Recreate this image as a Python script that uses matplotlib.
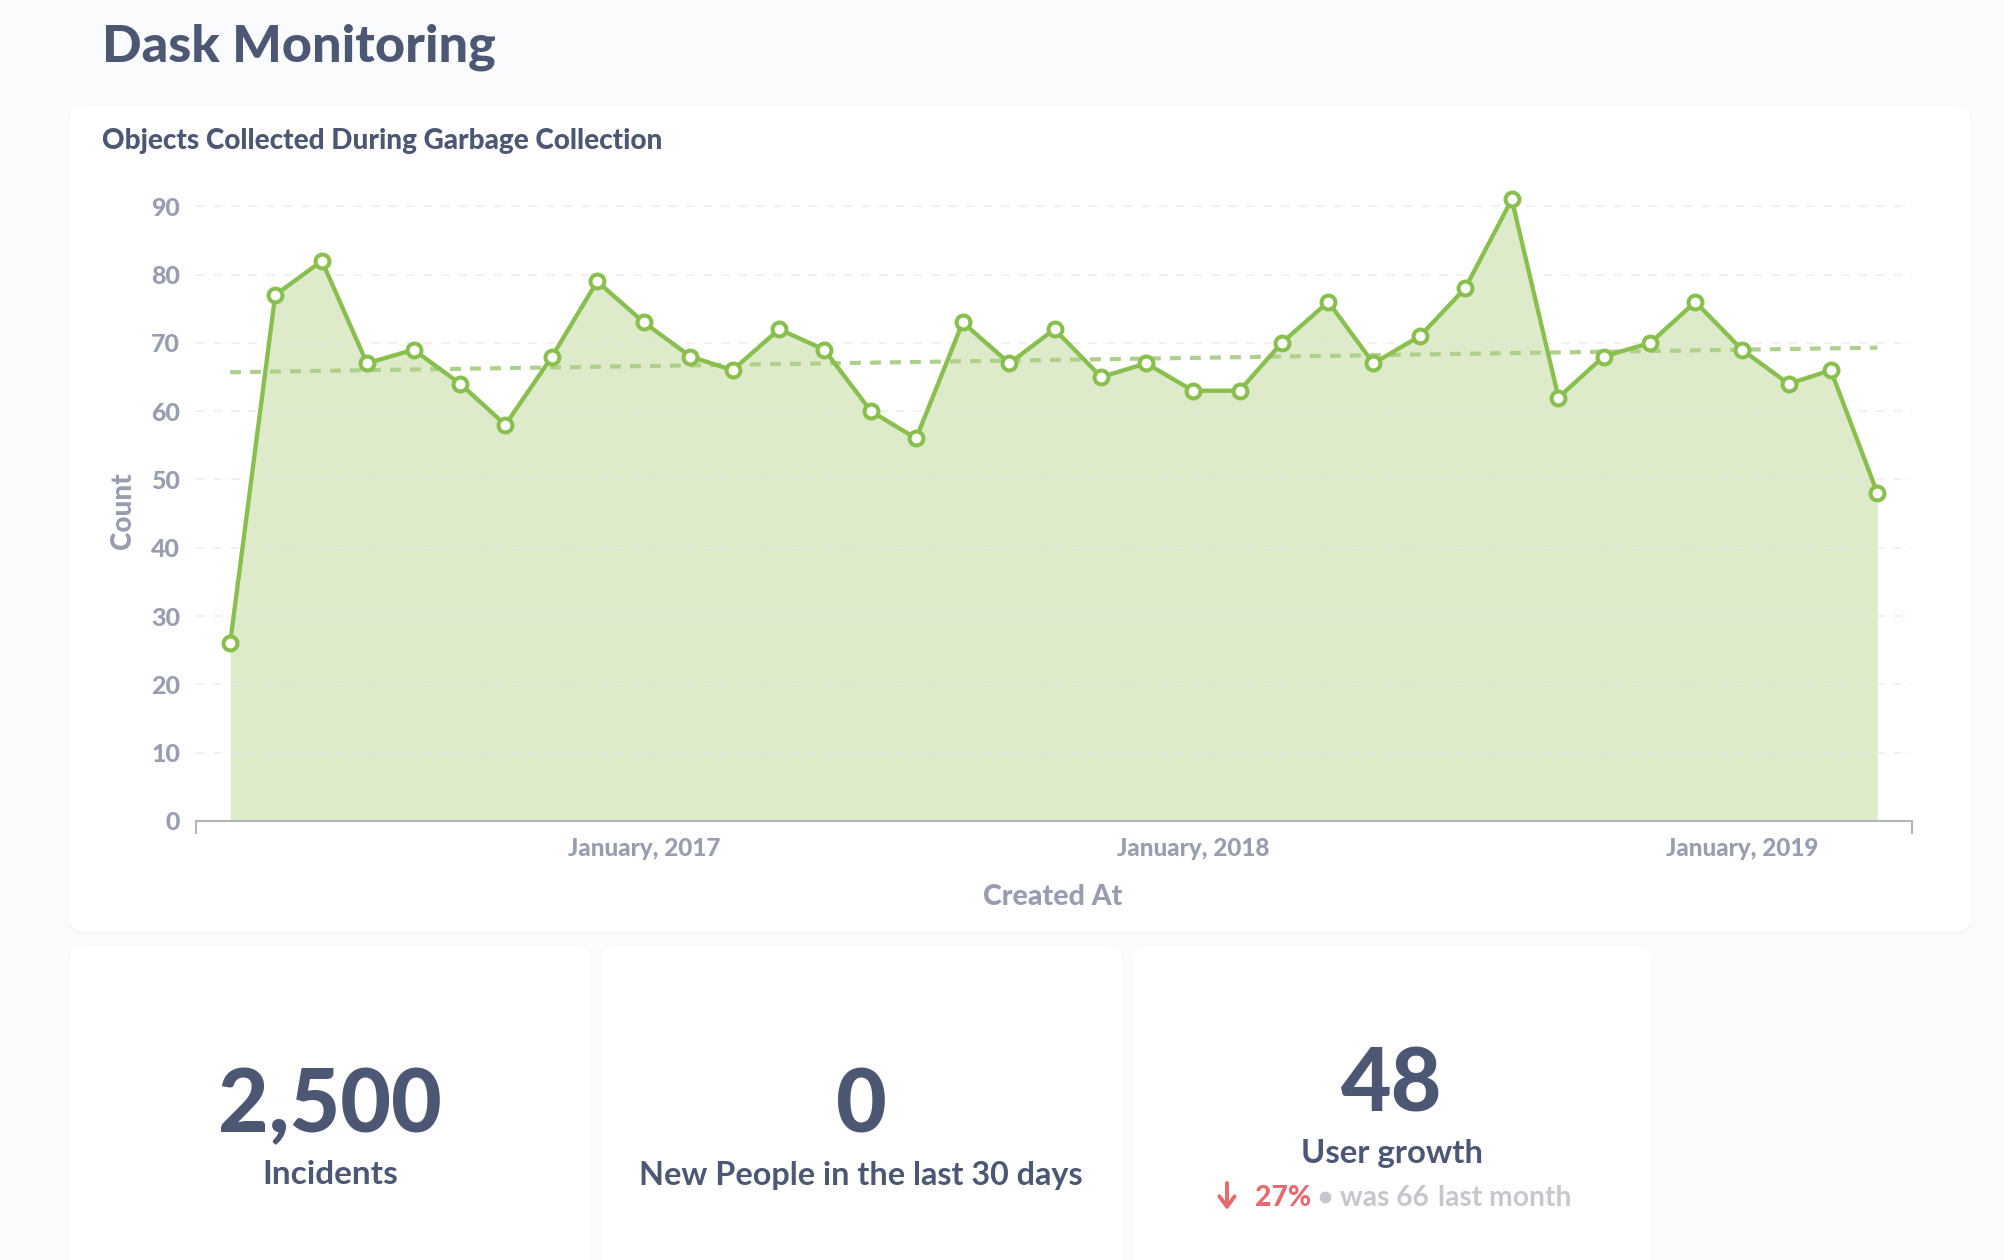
import matplotlib
matplotlib.use('Agg')
import matplotlib.pyplot as plt
import pandas as pd
from matplotlib.patches import FancyBboxPatch

plt.rcParams['font.family'] = ['Lato', 'DejaVu Sans']

months = pd.date_range('2016-04-01', '2019-04-01', freq='MS')
counts = [26, 77, 82, 67, 69, 64, 58, 68, 79, 73, 68, 66, 72, 69, 60, 56, 73, 67, 72,
          65, 67, 63, 63, 70, 76, 67, 71, 78, 91, 62, 68, 70, 76, 69, 64, 66, 48]
trend_dates = pd.to_datetime(['2016-04-01', '2019-04-01'])
trend_values = [65.7, 69.3]
y_ticks = [0, 10, 20, 30, 40, 50, 60, 70, 80, 90]
x_tick_dates = pd.to_datetime(['2017-01-01', '2018-01-01', '2019-01-01'])
x_tick_labels = ['January, 2017', 'January, 2018', 'January, 2019']

DARK = '#4c5773'
GREY = '#989eaf'
GREEN = '#88bf4d'
FILL = '#deebcb'
PAGE = '#f9fbfc'
HEAVY = 900


def card(ax, x0, y0, x1, y1):
    # soft shadow first, then the white card
    ax.add_patch(FancyBboxPatch((x0 + 1, y0 + 3), x1 - x0 - 2, y1 - y0 - 2, boxstyle='round,pad=0,rounding_size=14',
                                fc='#eff1f4', ec='#f3f5f7', lw=2))
    ax.add_patch(FancyBboxPatch((x0, y0), x1 - x0, y1 - y0, boxstyle='round,pad=0,rounding_size=14',
                                fc='white', ec='none'))


fig = plt.figure(figsize=(20.04, 12.6), dpi=100, facecolor=PAGE)

page = fig.add_axes([0, 0, 1, 1], zorder=0)
page.set_xlim(0, 2004)
page.set_ylim(1260, 0)
page.axis('off')

card(page, 70, 106, 1970, 932)
card(page, 70, 946, 590, 1300)
card(page, 602, 946, 1122, 1300)
card(page, 1132, 946, 1652, 1300)

page.text(102, 47, 'Dask Monitoring', fontsize=37.5, fontweight=HEAVY, color=DARK, va='center')
page.text(102, 141, 'Objects Collected During Garbage Collection', fontsize=20.1, fontweight=HEAVY, color=DARK, va='center')

page.text(123, 511, 'Count', fontsize=20, fontweight=HEAVY, color=GREY, rotation=90, ha='center', va='center')
page.text(1053, 897, 'Created At', fontsize=20.5, fontweight=HEAVY, color=GREY, ha='center', va='center')

page.text(330, 1107, '2,500', fontsize=63, fontweight=HEAVY, color=DARK, ha='center', va='center')
page.text(330, 1175, 'Incidents', fontsize=24, fontweight='bold', color=DARK, ha='center', va='center')
page.text(861, 1107, '0', fontsize=63, fontweight=HEAVY, color=DARK, ha='center', va='center')
page.text(861, 1175, 'New People in the last 30 days', fontsize=23.3, fontweight='bold', color=DARK, ha='center', va='center')
page.text(1392, 1086, '48', fontsize=63, fontweight=HEAVY, color=DARK, ha='center', va='center')
page.text(1392, 1153, 'User growth', fontsize=23.7, fontweight='bold', color=DARK, ha='center', va='center')

page.annotate('', xy=(1227, 1210), xytext=(1227, 1183),
              arrowprops=dict(arrowstyle='->,head_width=0.55,head_length=0.75', color='#e56a6e', lw=2.8, shrinkA=0, shrinkB=0))
page.text(1255, 1198, '27%', fontsize=20.3, fontweight=HEAVY, color='#e56a6e', va='center')
page.plot([1325], [1197], 'o', ms=7.5, color='#c4c7cc')
page.text(1340, 1198, 'was 66', fontsize=20.3, fontweight='bold', color='#c4c7cc', va='center')
page.text(1438, 1198, 'last month', fontsize=20.3, fontweight='bold', color='#c4c7cc', va='center')

# y: 0 at 821px, 10 units every 68.3px; x axis runs 195px to 1912px
ax = fig.add_axes([195.5 / 2004, (1260 - 821) / 1260, (1912 - 195.5) / 2004, 628.4 / 1260], zorder=1)
ax.patch.set_alpha(0)
ax.fill_between(months, counts, color=FILL, lw=0, zorder=1)
ax.grid(axis='y', color='#e6e7e8', alpha=0.6, lw=1.4, linestyle=(0, (4.5, 4.5)), zorder=2)
ax.set_axisbelow(False)
ax.plot(trend_dates, trend_values, color='#aed08a', lw=3, linestyle=(0, (2.6, 2.2)), zorder=3)
ax.plot(months, counts, color=GREEN, lw=3.1, marker='o', ms=10, mfc='white', mec=GREEN, mew=2.9, zorder=4, clip_on=False)

ax.set_xlim(months[0] - pd.Timedelta(days=23), months[-1] + pd.Timedelta(days=23))
ax.set_ylim(0, 92)
ax.set_yticks(y_ticks)
ax.get_ygridlines()[0].set_visible(False)
ax.set_xticks(x_tick_dates, x_tick_labels)
ax.set_xticks(ax.get_xlim(), minor=True)
ax.tick_params(axis='x', which='major', length=0, pad=11.5, labelsize=17.5, labelcolor=GREY)
ax.tick_params(axis='x', which='minor', length=9, width=1.5, color='#b3b7b9')
ax.tick_params(axis='y', length=0, pad=11, labelsize=18, labelcolor=GREY)
for label in ax.get_xticklabels() + ax.get_yticklabels():
    label.set_fontweight(HEAVY)

for side in ['top', 'left', 'right']:
    ax.spines[side].set_visible(False)
ax.spines['bottom'].set_color('#b3b7b9')
ax.spines['bottom'].set_linewidth(1.5)

plt.savefig('out.png', dpi=100, facecolor=PAGE)
